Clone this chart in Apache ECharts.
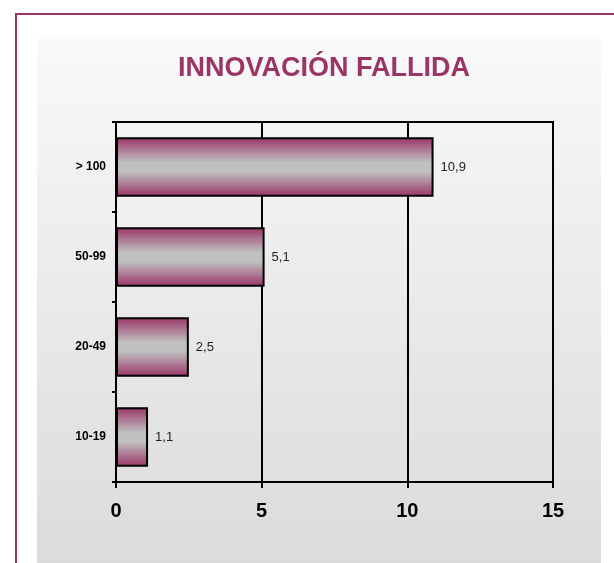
<!DOCTYPE html>
<html>
<head>
<meta charset="utf-8">
<script src="https://cdn.jsdelivr.net/npm/echarts@6/dist/echarts.min.js"></script>
<style>
    html, body { margin: 0; padding: 0; background: #fff; }
    #frame {
        position: absolute; left: 15px; top: 13px; width: 620px; height: 570px;
        border-left: 2px solid #9b3565; border-top: 2px solid #9b3565;
    }
    #panel {
        position: absolute; left: 37px; top: 39px; width: 564px; height: 524px;
        background: linear-gradient(to bottom, #f9f9f9, #dbdbdb);
    }
    #chart { position: absolute; left: 0; top: 0; width: 614px; height: 563px; }
</style>
</head>
<body>
<div id="frame"></div>
<div id="panel"></div>
<div id="chart"></div>
<script>
    // tamaño de empresa (de abajo hacia arriba)
    const categorias = ['10-19', '20-49', '50-99', '> 100'];
    const valores = [1.1, 2.5, 5.1, 10.9];
    const ticksX = [0, 5, 10, 15];

    let charts = echarts.init(document.getElementById('chart'));
    charts.setOption({
        animation: false,
        title: {
            text: 'INNOVACIÓN FALLIDA',
            left: 319,
            textAlign: 'center',
            top: 50,
            textStyle: {
                color: '#9b3565',
                fontFamily: 'Liberation Sans, Arial',
                fontWeight: 'bold',
                fontSize: 27
            }
        },
        grid: {
            left: 116,
            right: 61,
            top: 122,
            bottom: 81,
            show: true,
            borderColor: '#000',
            borderWidth: 2,
            backgroundColor: 'transparent'
        },
        xAxis: {
            type: 'value',
            min: ticksX[0],
            max: ticksX[ticksX.length - 1],
            interval: 5,
            axisLine: { show: true, lineStyle: { color: '#000', width: 2 } },
            axisTick: { show: true, length: 6, lineStyle: { color: '#000', width: 2 } },
            splitLine: { show: true, lineStyle: { color: '#000', width: 2 } },
            axisLabel: {
                margin: 19,
                color: '#000',
                fontFamily: 'Liberation Sans, Arial',
                fontWeight: 'bold',
                fontSize: 20
            }
        },
        yAxis: {
            type: 'category',
            data: categorias,
            axisLine: { show: true, lineStyle: { color: '#000', width: 2 } },
            axisTick: { show: true, length: 4, lineStyle: { color: '#000', width: 2 } },
            axisLabel: {
                margin: 10,
                color: '#000',
                fontFamily: 'Liberation Sans, Arial',
                fontWeight: 'bold',
                fontSize: 12
            }
        },
        series: [
            {
                type: 'bar',
                data: valores,
                barCategoryGap: '34%',
                itemStyle: {
                    borderColor: '#000',
                    borderWidth: 2,
                    color: new echarts.graphic.LinearGradient(0, 0, 0, 1, [
                        { offset: 0, color: '#993366' },
                        { offset: 0.42, color: '#c0c0c0' },
                        { offset: 0.58, color: '#c0c0c0' },
                        { offset: 1, color: '#993366' }
                    ])
                },
                label: {
                    show: true,
                    position: 'right',
                    distance: 7,
                    color: '#222',
                    fontFamily: 'Liberation Sans, Arial',
                    fontSize: 13,
                    formatter: (p) => String(p.value).replace('.', ',')
                }
            }
        ]
    });
</script>
</body>
</html>
